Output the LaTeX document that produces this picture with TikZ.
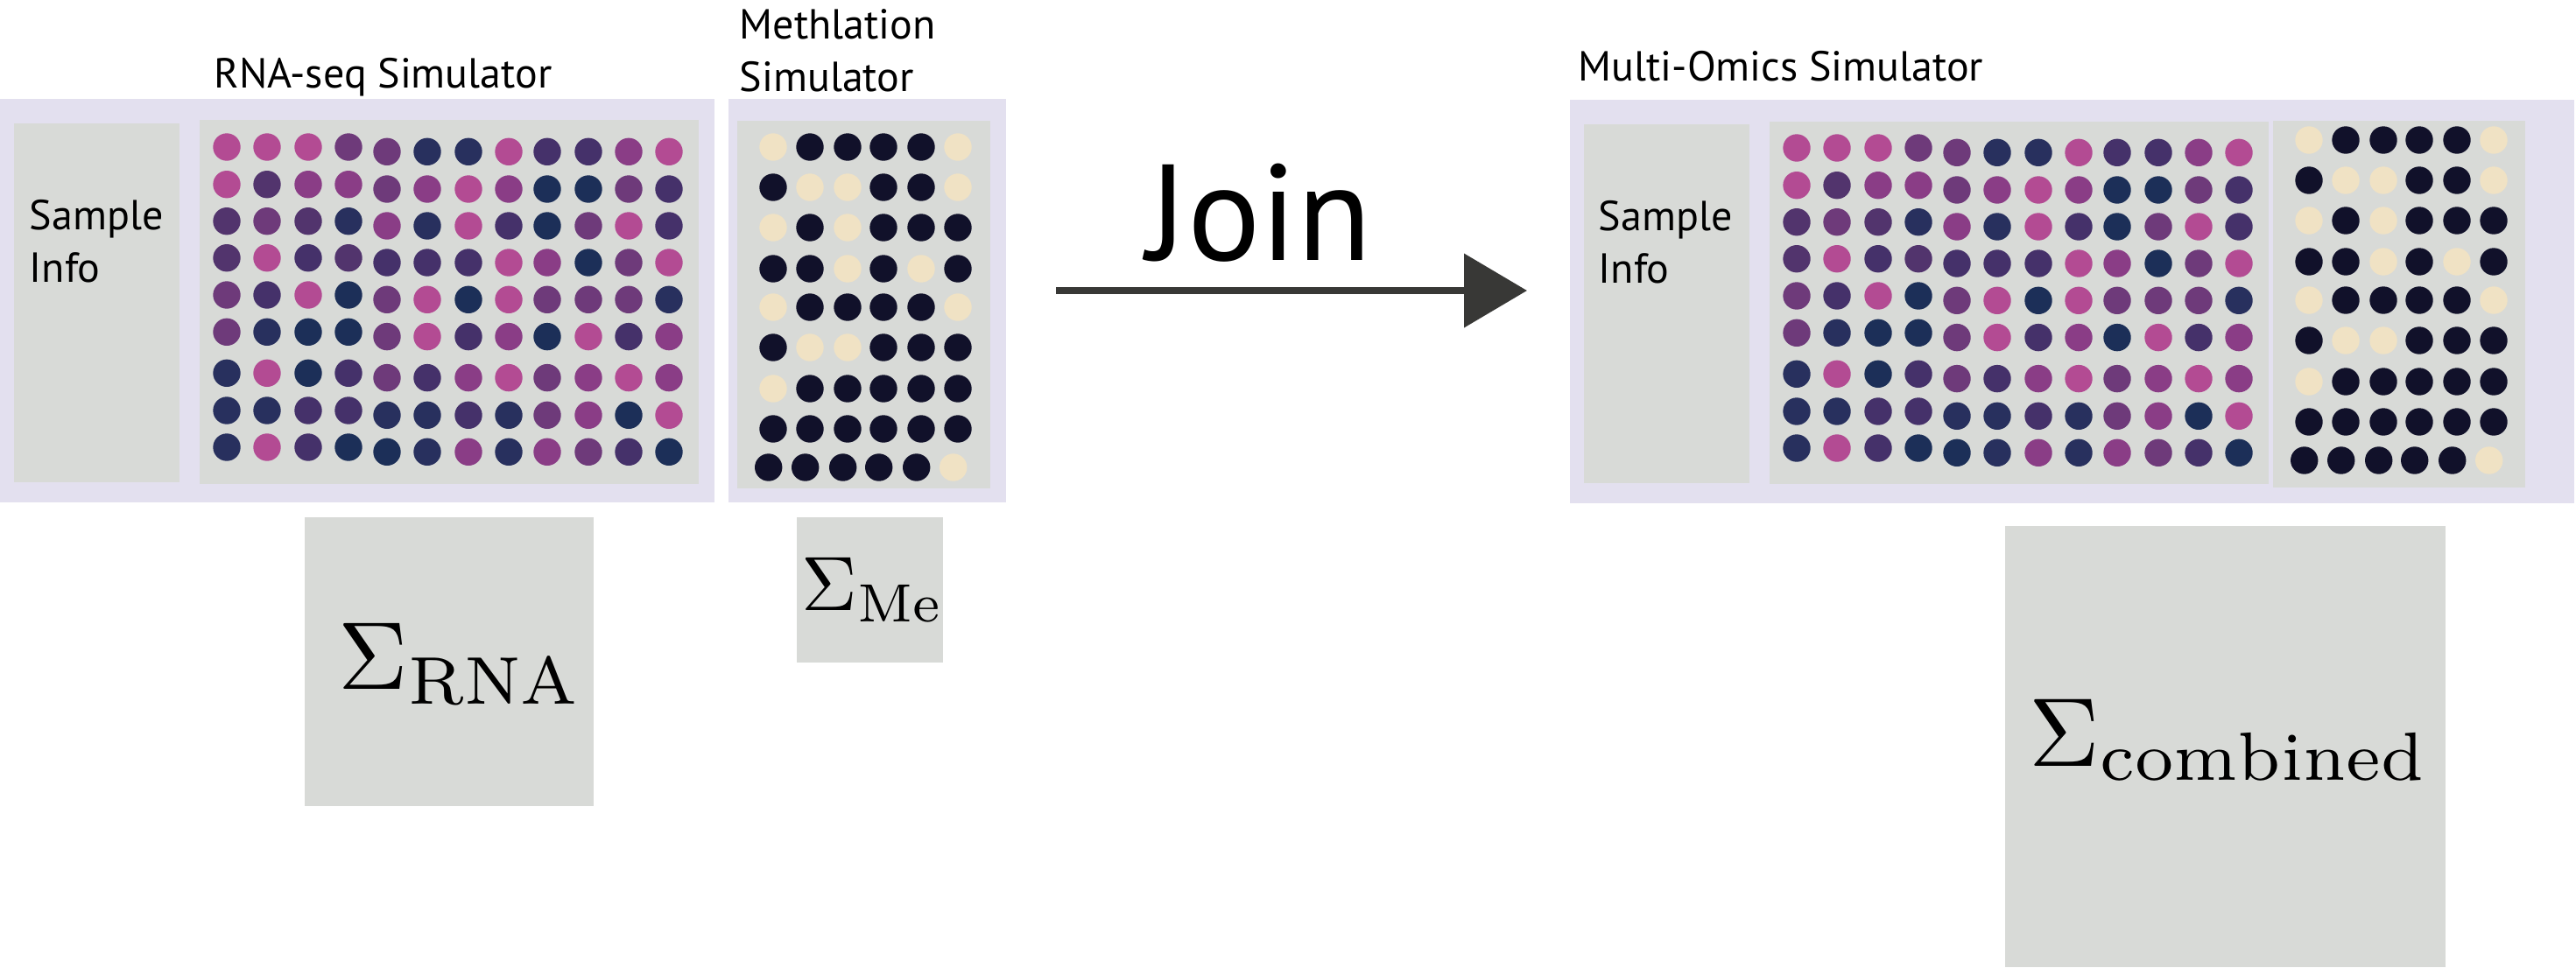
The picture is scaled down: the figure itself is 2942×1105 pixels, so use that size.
\documentclass[tikz,border=0pt]{standalone}
\usepackage{graphicx}
\usepackage{fontspec}
\newfontfamily\lab{PT Sans}
\usetikzlibrary{fit,arrows.meta}
\definecolor{lav}{HTML}{E3E0EF}
\definecolor{boxg}{HTML}{D8DAD7}
\definecolor{dA}{HTML}{B34B93}
\definecolor{dC}{HTML}{8A3D86}
\definecolor{dD}{HTML}{6E3A7A}
\definecolor{dE}{HTML}{52346D}
\definecolor{dF}{HTML}{45316A}
\definecolor{dG}{HTML}{28305E}
\definecolor{dH}{HTML}{1C2F58}
\definecolor{dL}{HTML}{F0E2C4}
\definecolor{dK}{HTML}{11112A}
\definecolor{arrowc}{HTML}{383836}

\newcommand\rnadots[2]{%
  \foreach \rowlist [count=\rowidx from 0] in {%
    {A,A,A,D,D,G,G,A,F,F,C,A},
    {A,E,C,C,D,C,A,C,H,H,D,F},
    {E,D,E,G,C,G,A,F,H,D,A,F},
    {E,A,F,E,F,F,F,A,C,H,D,A},
    {D,F,A,H,D,A,H,A,D,D,D,G},
    {D,G,H,H,D,A,F,C,H,A,F,C},
    {G,A,H,F,D,F,C,A,D,C,A,C},
    {G,G,F,F,G,G,F,G,D,C,H,A},
    {G,A,F,H,H,G,C,G,C,D,F,H}}{%
    \foreach \colname [count=\colidx from 0] in \rowlist {%
      \pgfmathsetmacro\cxx{#1+{31,77,124,170,214,260,307,353,397,444,490,536}[\colidx]}%
      \pgfmathsetmacro\cyy{#2+{31,73.7,115.7,157.7,200,242.3,289.3,332,374}[\rowidx]+(\colidx>3?5.3:0)}%
      \fill[d\colname] (\cxx,\cyy) circle[radius=3.925pt];
    }}}

\newcommand\medots[2]{%
  \foreach \rowlist [count=\rowidx from 0] in {%
    {L,K,K,K,K,L},
    {K,L,L,K,K,L},
    {L,K,L,K,K,K},
    {K,K,L,K,L,K},
    {L,K,K,K,K,L},
    {K,L,L,K,K,K},
    {L,K,K,K,K,K},
    {K,K,K,K,K,K},
    {K,K,K,K,K,L}}{%
    \foreach \colname [count=\colidx from 0] in \rowlist {%
      \pgfmathsetmacro\cxx{#1+{41,83,126,167,210,252}[\colidx]+(\rowidx>7?-5.3:0)}%
      \pgfmathsetmacro\cyy{#2+{22,68,114,161,205,251,298,344,388}[\rowidx]}%
      \fill[d\colname] (\cxx,\cyy) circle[radius=3.925pt];
    }}}

\tikzset{
  panel/.style={fill=lav, inner sep=0pt, draw=none},
  graybox/.style={fill=boxg, inner sep=0pt, draw=none},
  labeltext/.style={font=\lab\fontsize{12}{14}\selectfont, inner sep=0pt, text=black},
  jointext/.style={font=\lab\fontsize{39}{41}\selectfont, inner sep=0pt, text=black},
  sigtext/.style={inner sep=0pt, anchor=base west, text=black},
  joinarrow/.style={draw=arrowc, line width=2pt, -{Triangle[length=18pt,width=20.75pt,fill=arrowc]}}
}

\begin{document}
\begin{tikzpicture}[x=0.25pt,y=-0.25pt]
\useasboundingbox (0,0) rectangle (2942,1105);

% RNA-seq panel
\node[panel, fit={(0,113)(816,574)}] (rnapanel) {};
\node[graybox, fit={(16,141)(205,551)}] (rnainfo) {};
\node[graybox, fit={(228,137)(798,553)}] (rnagrid) {};
\rnadots{228}{137}
\node[labeltext, anchor=base] (rnatitle) at (437.5,100) {RNA-seq Simulator};
\node[labeltext, anchor=base west] (rnasample) at (33,262) {Sample};
\node[labeltext, anchor=base west] (rnainfotxt) at (33,322) {Info};

% Methylation panel
\node[panel, fit={(832,113)(1149,574)}] (mepanel) {};
\node[graybox, fit={(842,138)(1131,558)}] (megrid) {};
\medots{842}{146}
\node[labeltext, anchor=base west] (metitle1) at (844,44) {Methlation};
\node[labeltext, anchor=base west] (metitle2) at (844,104) {Simulator};

% Sigma boxes
\node[graybox, fit={(348,591)(678,921)}] (sigrna) {};
\node[sigtext] (sigrnatxt) at (386,787) {\scalebox{2.75}{$\Sigma_{\mathrm{RNA}}$}};
\node[graybox, fit={(910,591)(1077,757)}] (sigme) {};
\node[sigtext] (sigmetxt) at (915,697) {\scalebox{2.2}{$\Sigma_{\mathrm{Me}}$}};

% Join arrow
\coordinate (joinstart) at (1206,332);
\coordinate (joinend) at (1744,332);
\draw[joinarrow] (joinstart) -- (joinend);
\node[jointext, anchor=base] (jointxt) at (1439,297) {Join};

% Multi-omics panel
\node[panel, fit={(1793,114)(2940,575)}] (mopanel) {};
\node[graybox, fit={(1809,142)(1998,552)}] (moinfo) {};
\node[graybox, fit={(2021,139)(2591,553)}] (morna) {};
\rnadots{2021}{138}
\node[graybox, fit={(2596,138)(2884,557)}] (mome) {};
\medots{2596}{138}
\node[labeltext, anchor=base west] (motitle) at (1802,92) {Multi-Omics Simulator};
\node[labeltext, anchor=base west] (mosample) at (1825,263) {Sample};
\node[labeltext, anchor=base west] (moinfotxt) at (1825,323) {Info};

\node[graybox, fit={(2290,601)(2793,1105)}] (sigcomb) {};
\node[sigtext] (sigcombtxt) at (2317,875) {\scalebox{2.79}{$\Sigma_{\mathrm{combined}}$}};
\end{tikzpicture}
\end{document}
